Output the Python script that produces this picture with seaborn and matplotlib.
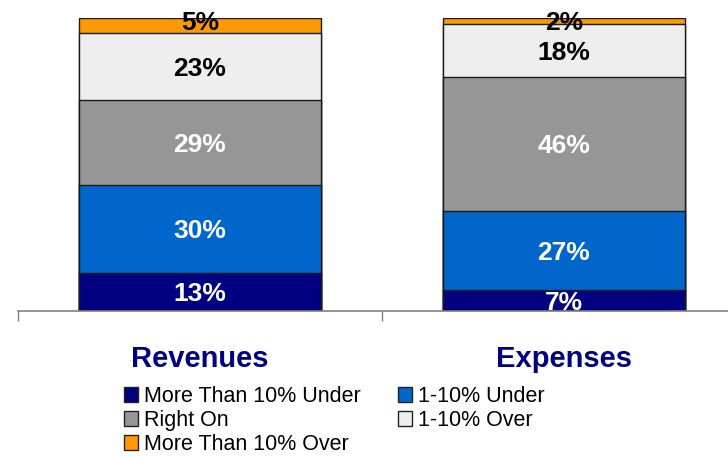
import matplotlib
matplotlib.use("Agg")
import matplotlib.pyplot as plt
import matplotlib.transforms as mtransforms
import seaborn as sns
import numpy as np
from matplotlib.patches import Patch

sns.set_style("white")
plt.rcParams['font.family'] = ['Liberation Sans', 'DejaVu Sans']
plt.rcParams['text.color'] = 'black'
plt.rcParams['legend.labelcolor'] = 'black'

categories = ["Revenues", "Expenses"]
series_names = ["More Than 10% Under", "1-10% Under", "Right On", "1-10% Over", "More Than 10% Over"]
more_than_10_under = [13, 7]
under_1_10 = [30, 27]
right_on = [29, 46]
over_1_10 = [23, 18]
more_than_10_over = [5, 2]

series_values = [more_than_10_under, under_1_10, right_on, over_1_10, more_than_10_over]
colors = ["#000080", "#0066CC", "#969696", "#EEEEEE", "#FF9900"]
text_colors = ["white", "white", "white", "black", "black"]

fig = plt.figure(figsize=(7.28, 4.57), dpi=100)
ax = fig.add_axes([18/728, 146/457, 728/728, 293/457])

vals = np.array(series_values, dtype=float)
cum = np.cumsum(vals, axis=0)

# draw stacked bars: tallest cumulative first
for i in range(len(series_names) - 1, -1, -1):
    sns.barplot(x=categories, y=cum[i], color=colors[i], saturation=1,
                width=0.667, edgecolor="#1a1a1a", linewidth=1.0, ax=ax, zorder=2)

# segment labels
shift = mtransforms.offset_copy(ax.transData, fig=fig, x=0, y=-2.5, units="dots")
for i in range(len(series_names)):
    for j in range(len(categories)):
        center = cum[i, j] - vals[i, j] / 2
        y = 99.0 if i == len(series_names) - 1 else center
        ax.text(j, y, f"{int(vals[i, j])}%", ha="center", va="center",
                fontsize=19, fontweight="bold", color=text_colors[i], zorder=5,
                transform=shift)

ax.set_xlim(-0.5, 1.5)
ax.set_ylim(0, 100)
ax.set_yticks([])
ax.set_xticks([-0.5, 0.5, 1.5])
ax.set_xticklabels([])
ax.tick_params(axis="x", direction="out", length=7.5, width=1, color="#808080", bottom=True)
for s in ["top", "left", "right"]:
    ax.spines[s].set_visible(False)
ax.spines["bottom"].set_color("#808080")
ax.spines["bottom"].set_linewidth(1.2)
ax.set_xlabel("")
ax.set_ylabel("")

for j, c in enumerate(categories):
    ax.text(j, -0.165, c, transform=ax.get_xaxis_transform(), ha="center", va="center",
            fontsize=21, fontweight="bold", color="#000080")

order = [0, 2, 4, 1, 3]
handles = [Patch(facecolor=colors[k], edgecolor="#222222", linewidth=1) for k in order]
labels = [series_names[k] for k in order]
fig.legend(handles, labels, ncol=2, loc="upper left", bbox_to_anchor=(124/728, 1 - 386/457),
           frameon=False, fontsize=15.5, handlelength=0.65, handleheight=0.65,
           handletextpad=0.3, columnspacing=1.7, labelspacing=0.14,
           borderpad=0, borderaxespad=0, labelcolor="black")

fig.savefig("out.png", dpi=100)
